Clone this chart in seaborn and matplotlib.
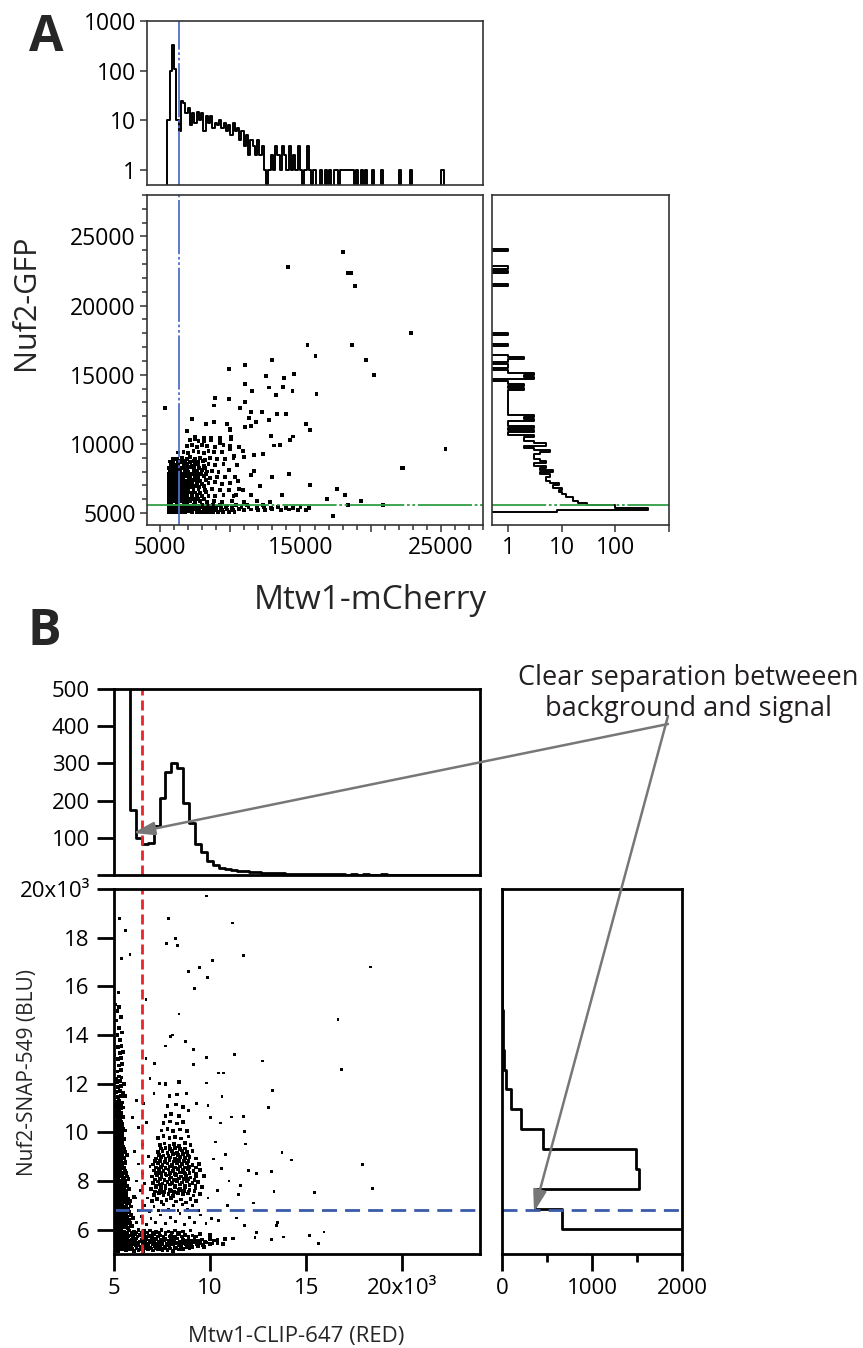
import numpy as np
import matplotlib
matplotlib.use('Agg')
import matplotlib.pyplot as plt
import matplotlib.ticker as mticker
from matplotlib.patches import FancyArrowPatch
import seaborn as sns

sns.set_style('ticks')
plt.rcParams['font.family'] = ['Open Sans', 'DejaVu Sans']

# ---------------- DATA : panel A ----------------
a_top_start = 5360
a_top_width = 160
a_top_counts = [0, 10, 100, 330, 110, 10, 6, 24, 22, 14, 18, 8, 14, 9, 15, 10, 14, 6, 12, 9, 12,
                7, 9, 8, 10, 7, 9, 6, 8, 5, 9, 6, 7, 4, 6, 3, 5, 2, 4, 3, 2,
                4, 2, 3, 1, 0, 1, 2, 1, 3, 2, 1, 3, 2, 1, 3, 1, 2, 1, 3, 1,
                0, 1, 3, 1, 0, 1, 0, 0, 1, 0, 1, 0, 1, 0, 1, 1, 0, 1, 1, 1,
                1, 1, 1, 0, 1, 0, 1, 0, 1, 0, 0, 1, 0, 0, 0, 1, 0, 0, 0, 0,
                0, 0, 0, 1, 0, 0, 0, 0, 1, 0, 0, 0, 0, 0, 0, 0, 0, 0, 0, 0,
                0, 0, 1, 0, 0]

a_right_start = 4920
a_right_width = 160
a_right_counts = [0, 8, 400, 100, 30, 20, 16, 16, 12, 10, 9, 10, 7, 9, 6, 5, 5, 6, 4, 7, 4,
                  5, 3, 5, 4, 3, 3, 4, 6, 3, 2, 5, 3, 2, 2, 3, 1, 3, 1, 3, 1,
                  1, 3, 2, 3, 1, 1, 1, 1, 1, 1, 1, 1, 1, 1, 1, 2, 1, 2, 1, 0,
                  3, 2, 3, 1, 0, 1, 1, 0, 1, 2, 1, 0, 0, 0, 0, 1, 0, 0, 0, 0,
                  1, 0, 0, 0, 0, 0, 0, 0, 0, 0, 0, 0, 0, 0, 0, 0, 0, 0, 0, 0,
                  0, 0, 1, 0, 0, 0, 0, 0, 1, 0, 1, 0, 0, 0, 0, 0, 0, 0, 1, 0]

a_sparse = [(18000, 23900), (14100, 22800), (18400, 22350), (18600, 22350), (18900, 21420),
            (22900, 18000), (18670, 17130), (15500, 17130), (16070, 16360), (19690, 16090),
            (20240, 15000), (25330, 9660), (22210, 8290), (22330, 8290), (16140, 13620),
            (15670, 7030), (17570, 6720), (18140, 6280), (16900, 6040), (19330, 5890),
            (17330, 4810), (20900, 5560), (18380, 5600), (5360, 12600),
            (11050, 15730), (9880, 15440), (13000, 16040), (12550, 14880), (13810, 14740),
            (14570, 15030), (13760, 14150), (14430, 13800), (13290, 13530), (12790, 14080),
            (11050, 14310), (11550, 13860), (9880, 13240), (8910, 13310), (8810, 12780),
            (11050, 13030), (10710, 12570), (11480, 12280), (12260, 12330), (11310, 11900),
            (13330, 12190), (13950, 12160), (12740, 11700), (11860, 11580), (11070, 11200),
            (11480, 11270), (15380, 11460), (15670, 11020), (12900, 10590), (14500, 10540),
            (14240, 10300), (13140, 9890), (13570, 9940), (12950, 7640), (14190, 7860),
            (11670, 8040), (11500, 7750), (12140, 6980), (10550, 7340), (10880, 6670),
            (10380, 6300), (11480, 6280), (13690, 6280), (12330, 9250), (11670, 9200),
            (10980, 9080), (10880, 9520), (10290, 9140), (9950, 9640), (10600, 9780),
            (7290, 11790), (6950, 10920), (8290, 11420), (8830, 11570), (9790, 11420),
            (9950, 11110), (7500, 10530), (8120, 10240), (8640, 10410), (9290, 10410),
            (10070, 10530), (9240, 10050), (10000, 10990)]

a_core = [(7150, 10280), (7500, 10350), (7740, 10220), (8120, 10400), (8640, 10300), (9290, 10180), (10070, 10330),
          (6900, 9820), (7260, 9900), (7620, 9780), (8000, 9950), (8330, 9840), (8930, 9760), (9520, 9900), (9950, 9830),
          (6300, 9380), (6670, 9450), (7020, 9330), (7380, 9480), (7740, 9400), (8100, 9350), (8450, 9470), (8810, 9390), (9400, 9430),
          (5950, 8950), (6200, 8880), (6550, 9000), (6900, 8920), (7140, 9030), (7500, 8900), (7860, 8980), (8210, 8870),
          (8570, 9010), (9050, 8940), (9640, 8890), (10230, 8970),
          (5800, 8520), (6050, 8450), (6300, 8560), (6670, 8480), (6900, 8530), (7260, 8440), (7500, 8570), (7740, 8490),
          (8100, 8420), (8450, 8550), (8930, 8470), (9520, 8530), (10480, 8460),
          (5700, 8060), (5950, 8000), (6200, 8100), (6450, 8030), (6790, 8080), (7020, 7990), (7380, 8120), (7620, 8040),
          (7980, 8090), (8330, 8010), (8690, 8070), (9160, 8000), (9880, 8110),
          (5650, 7580), (5900, 7640), (6150, 7560), (6400, 7620), (6670, 7590), (6900, 7670), (7140, 7550), (7500, 7630),
          (7740, 7580), (8100, 7650), (8570, 7560), (9050, 7620), (9640, 7590), (10350, 7640),
          (5650, 7130), (5850, 7200), (6100, 7110), (6300, 7180), (6550, 7140), (6790, 7210), (7020, 7120), (7260, 7170),
          (7620, 7200), (7980, 7110), (8450, 7160), (8930, 7220), (9400, 7130), (10000, 7180),
          (5600, 6720), (5850, 6650), (6050, 6740), (6300, 6680), (6550, 6710), (6790, 6660), (7020, 6750), (7380, 6690),
          (7740, 6720), (8210, 6650), (8690, 6740), (9290, 6700), (9880, 6660), (10600, 6720),
          (5600, 6230), (5800, 6290), (6000, 6210), (6200, 6270), (6450, 6240), (6670, 6300), (6900, 6220), (7260, 6260),
          (7620, 6290), (8000, 6210), (8450, 6270), (8930, 6240), (9520, 6300), (10230, 6220),
          (5600, 5860), (5800, 5800), (6000, 5880), (6200, 5830), (6450, 5870), (6670, 5810), (6900, 5890), (7140, 5840),
          (7500, 5800), (7860, 5870), (8330, 5820), (8810, 5880), (9400, 5830), (10100, 5860), (10950, 5810),
          (11900, 5850), (12800, 5820),
          (5750, 8300), (5900, 7850), (6100, 7350), (5750, 6950), (5950, 6450), (6150, 6000), (5950, 8850)]

a_core_fill = [(5700, 8730), (5950, 8700), (6250, 8760), (6500, 8710), (6800, 8750), (7100, 8720), (7400, 8740),
               (7700, 8700), (8050, 8760),
               (5650, 8280), (5900, 8250), (6150, 8300), (6400, 8260), (6700, 8290), (6950, 8250), (7200, 8310),
               (7450, 8270), (7800, 8290), (8200, 8250),
               (5600, 7830), (5850, 7800), (6100, 7850), (6350, 7810), (6600, 7840), (6850, 7800), (7100, 7860),
               (7350, 7820), (7600, 7840), (7900, 7800), (8250, 7850),
               (5600, 7380), (5850, 7350), (6050, 7400), (6300, 7360), (6550, 7390), (6800, 7350), (7050, 7410),
               (7300, 7370), (7550, 7390), (7850, 7350), (8300, 7400),
               (5600, 6930), (5800, 6900), (6050, 6950), (6250, 6910), (6500, 6940), (6750, 6900), (7000, 6960),
               (7250, 6920), (7500, 6940), (7800, 6900), (8100, 6950),
               (5600, 6480), (5800, 6450), (6000, 6500), (6250, 6460), (6500, 6490), (6750, 6450), (7000, 6510),
               (7250, 6470), (7500, 6490), (7850, 6450), (8250, 6500),
               (5600, 6030), (5800, 6000), (6000, 6050), (6200, 6010), (6400, 6040), (6650, 6000), (6900, 6060),
               (7150, 6020), (7400, 6040), (7700, 6000), (8100, 6050)]

a_band = [(5600, 5080), (5800, 5060), (6000, 5100), (6200, 5070), (6400, 5110), (6600, 5060), (6800, 5090), (7000, 5120),
          (7300, 5070), (7600, 5100), (7900, 5060), (8200, 5110), (8500, 5080), (8800, 5100), (9100, 5060), (9500, 5110),
          (9900, 5080), (10300, 5100),
          (5700, 5240), (5900, 5270), (6100, 5220), (6300, 5260), (6500, 5230), (6750, 5280), (7000, 5250), (7250, 5220),
          (7500, 5270), (7800, 5240), (8100, 5260), (8400, 5220), (8700, 5270), (9000, 5250), (9400, 5230), (9800, 5260),
          (10200, 5240), (10600, 5270), (11000, 5230), (11500, 5260), (12000, 5250), (12500, 5220), (13000, 5270),
          (13600, 5240), (14200, 5260), (14800, 5230), (15400, 5250),
          (5650, 5400), (5850, 5430), (6050, 5380), (6250, 5420), (6500, 5390), (6700, 5440), (6950, 5400), (7200, 5370),
          (7450, 5420), (7700, 5390), (8000, 5430), (8300, 5380), (8650, 5410), (9000, 5440), (9350, 5390), (9700, 5420),
          (10100, 5380), (10800, 5410), (11300, 5440), (11900, 5390), (12400, 5420), (12900, 5380), (13400, 5430),
          (14000, 5400), (14500, 5380), (15000, 5420), (15600, 5400),
          (5600, 5560), (5800, 5590), (6000, 5540), (6200, 5580), (6450, 5550), (6700, 5600), (6900, 5560), (7150, 5530),
          (7400, 5580), (7700, 5550), (8000, 5590), (8400, 5540), (8800, 5570), (9300, 5600), (9800, 5550), (10400, 5580),
          (11200, 5560), (12300, 5600)]

a_vline = 6360
a_hline = 5580

# ---------------- DATA : panel B (values in thousands) ----------------
b_top_start = 4.90
b_top_width = 0.311
b_top_counts = [900, 1500, 800, 174, 100, 82, 85, 133, 208, 277, 300, 288, 194, 139, 84, 62, 37, 26,
                18, 15, 13, 11, 10, 8, 7, 6, 6, 5, 5, 4, 4, 3, 3, 3, 2, 3, 2, 2, 2, 1, 2, 1, 2, 1,
                1, 2, 1, 1, 1, 1, 0, 1, 1, 0, 1, 1, 0, 1, 0, 1, 0, 0]

b_right_start = 4.40
b_right_width = 0.818
b_right_counts = [3000, 2600, 664, 362, 1520, 1494, 450, 214, 103, 48, 18, 11, 6, 4, 3, 2, 2, 1, 1]

b_sparse = [(9.83, 19.71), (5.31, 18.8), (7.87, 18.78), (5.61, 18.31), (11.18, 18.6), (7.77, 17.77), (8.2, 17.98),
            (8.34, 17.67), (5.86, 17.3), (5.42, 17.13), (11.76, 17.26), (10.15, 17.06), (18.33, 16.79), (8.91, 16.62),
            (9.46, 16.76), (9.89, 16.35), (9.22, 15.9), (5.26, 15.76), (6.69, 15.46), (8.4, 14.86), (16.66, 14.64),
            (8.05, 14.0), (7.95, 13.93), (7.69, 13.55), (8.74, 13.73), (9.16, 13.39), (6.69, 13.05), (9.83, 13.09),
            (11.29, 13.19), (12.74, 12.93), (16.83, 12.57), (7.14, 12.84), (9.16, 12.78), (10.46, 12.44), (10.72, 12.44),
            (9.83, 12.03), (13.27, 11.71), (10.63, 11.46), (13.06, 11.03), (11.13, 10.63), (11.74, 10.66), (10.02, 10.62),
            (10.54, 10.38), (11.8, 10.03), (11.84, 9.52), (13.75, 9.17), (14.25, 8.86), (17.93, 8.69), (11.99, 8.42),
            (12.41, 8.31), (13.21, 8.39), (15.44, 7.54), (18.45, 7.7), (13.33, 7.58), (11.59, 7.81), (11.47, 7.46),
            (12.27, 7.1), (13.52, 6.31), (13.47, 6.18), (12.41, 5.88), (15.93, 5.9), (15.19, 5.76), (15.63, 5.43),
            (13.84, 5.7), (13.22, 5.61), (12.34, 5.67), (11.81, 6.18), (11.38, 6.48), (10.44, 6.39), (10.93, 6.99),
            (10.3, 9.6), (10.8, 9.1), (9.9, 11.1), (10.2, 8.9), (10.6, 8.5), (11.0, 8.0), (10.4, 7.6), (9.9, 7.3),
            (7.1, 11.6), (6.9, 12.2), (7.4, 12.0), (8.8, 11.6), (9.3, 11.2), (8.9, 10.9)]

b_column = [(5.05, 6.05), (5.22, 6.1), (5.4, 6.02), (5.58, 6.12), (5.75, 6.07), (5.95, 6.15),
            (5.12, 6.25), (5.3, 6.3), (5.48, 6.22), (5.66, 6.33), (5.85, 6.27),
            (5.03, 6.45), (5.2, 6.4), (5.38, 6.5), (5.55, 6.43), (5.72, 6.52), (6.0, 6.48),
            (5.1, 6.65), (5.28, 6.6), (5.45, 6.7), (5.62, 6.63), (5.8, 6.72),
            (5.04, 6.85), (5.2, 6.9), (5.36, 6.82), (5.52, 6.93), (5.7, 6.87), (5.9, 6.95),
            (5.12, 7.05), (5.3, 7.1), (5.47, 7.02), (5.64, 7.13), (5.82, 7.08),
            (5.05, 7.25), (5.22, 7.3), (5.4, 7.22), (5.57, 7.33), (5.75, 7.27), (6.05, 7.35),
            (5.14, 7.45), (5.31, 7.5), (5.5, 7.42), (5.68, 7.53),
            (5.04, 7.65), (5.21, 7.7), (5.38, 7.62), (5.56, 7.73), (5.8, 7.67),
            (5.12, 7.85), (5.3, 7.9), (5.46, 7.82), (5.63, 7.93),
            (5.05, 8.05), (5.22, 8.1), (5.39, 8.02), (5.56, 8.13), (5.78, 8.08),
            (5.13, 8.25), (5.3, 8.3), (5.47, 8.22), (5.65, 8.33),
            (5.04, 8.45), (5.2, 8.5), (5.37, 8.42), (5.54, 8.53),
            (5.12, 8.65), (5.28, 8.7), (5.45, 8.62), (5.62, 8.73),
            (5.05, 8.85), (5.21, 8.9), (5.38, 8.82), (5.55, 8.93),
            (5.13, 9.05), (5.3, 9.1), (5.46, 9.02), (5.7, 9.08),
            (5.06, 9.25), (5.22, 9.3), (5.39, 9.22), (5.56, 9.33),
            (5.14, 9.45), (5.31, 9.5), (5.48, 9.42),
            (5.05, 9.65), (5.22, 9.7), (5.38, 9.62), (5.55, 9.73),
            (5.13, 9.85), (5.3, 9.9), (5.46, 9.82),
            (5.06, 10.05), (5.22, 10.1), (5.38, 10.02), (5.6, 10.08),
            (5.14, 10.25), (5.3, 10.3), (5.45, 10.22),
            (5.07, 10.45), (5.24, 10.5), (5.4, 10.42),
            (5.15, 10.65), (5.32, 10.7), (5.5, 10.62),
            (5.1, 10.85), (5.27, 10.9), (5.42, 10.82),
            (5.18, 11.05), (5.35, 11.1), (5.52, 11.02),
            (5.12, 11.25), (5.3, 11.3), (5.45, 11.22),
            (5.22, 11.45), (5.38, 11.5),
            (5.15, 11.65), (5.32, 11.7), (5.48, 11.62),
            (5.25, 11.85), (5.4, 11.9),
            (5.18, 12.05), (5.35, 12.1), (5.55, 12.0),
            (5.28, 12.3), (5.42, 12.25),
            (5.2, 12.5), (5.38, 12.55),
            (5.3, 12.75), (5.45, 12.8),
            (5.22, 13.0), (5.4, 13.05),
            (5.32, 13.25), (5.5, 13.3),
            (5.25, 13.5), (5.42, 13.55),
            (5.35, 13.8), (5.2, 14.0), (5.45, 14.1), (5.3, 14.3), (5.12, 14.6), (5.38, 14.75),
            (5.2, 15.0), (5.1, 15.25), (5.28, 15.15), (5.05, 13.2), (5.12, 12.2), (5.6, 11.5)]

b_column_fill = [(5.13, 6.17), (5.31, 6.2), (5.49, 6.14), (5.67, 6.22), (5.88, 6.18),
                 (5.08, 6.36), (5.26, 6.35), (5.44, 6.39), (5.62, 6.36), (5.8, 6.4),
                 (5.14, 6.56), (5.32, 6.55), (5.5, 6.58), (5.68, 6.55), (5.9, 6.6),
                 (5.08, 6.76), (5.26, 6.75), (5.43, 6.78), (5.6, 6.76), (5.78, 6.8),
                 (5.15, 6.96), (5.32, 6.98), (5.5, 6.95), (5.68, 6.99),
                 (5.08, 7.16), (5.26, 7.18), (5.43, 7.15), (5.6, 7.19), (5.85, 7.17),
                 (5.15, 7.37), (5.33, 7.38), (5.5, 7.35), (5.67, 7.39),
                 (5.08, 7.56), (5.25, 7.58), (5.43, 7.55), (5.6, 7.6),
                 (5.15, 7.77), (5.33, 7.78), (5.5, 7.75), (5.7, 7.8),
                 (5.08, 7.96), (5.25, 7.98), (5.43, 7.95), (5.6, 7.99),
                 (5.15, 8.17), (5.33, 8.18), (5.5, 8.15), (5.7, 8.19),
                 (5.08, 8.36), (5.25, 8.38), (5.43, 8.35), (5.6, 8.4),
                 (5.15, 8.56), (5.33, 8.58), (5.5, 8.55),
                 (5.08, 8.76), (5.25, 8.78), (5.43, 8.75), (5.62, 8.8),
                 (5.15, 8.96), (5.33, 8.98), (5.5, 8.95),
                 (5.08, 9.16), (5.25, 9.18), (5.43, 9.15), (5.6, 9.2),
                 (5.15, 9.36), (5.33, 9.38), (5.5, 9.35),
                 (5.08, 9.56), (5.25, 9.58), (5.43, 9.55),
                 (5.15, 9.76), (5.33, 9.78), (5.5, 9.75),
                 (5.08, 9.96), (5.25, 9.98), (5.43, 9.95),
                 (5.15, 10.16), (5.33, 10.18), (5.5, 10.15),
                 (5.08, 10.36), (5.25, 10.38), (5.43, 10.35),
                 (5.2, 10.56), (5.36, 10.58),
                 (5.05, 10.76), (5.22, 10.78), (5.38, 10.75),
                 (5.24, 10.96), (5.4, 10.98),
                 (5.08, 11.16), (5.25, 11.18), (5.4, 11.15)]

b_band = [(5.05, 5.16), (5.25, 5.12), (5.45, 5.18), (5.65, 5.14), (5.85, 5.19), (6.05, 5.13), (6.3, 5.17),
          (6.55, 5.12), (6.8, 5.18), (7.05, 5.15), (7.3, 5.2), (7.55, 5.14), (7.8, 5.17), (8.1, 5.13), (8.4, 5.19),
          (5.1, 5.3), (5.3, 5.34), (5.5, 5.27), (5.7, 5.32), (5.9, 5.28), (6.15, 5.35), (6.4, 5.29), (6.65, 5.33),
          (6.9, 5.26), (7.15, 5.31), (7.4, 5.35), (7.65, 5.28), (7.9, 5.32), (8.2, 5.27), (8.5, 5.34), (8.8, 5.3),
          (9.1, 5.28), (9.4, 5.33), (9.7, 5.29),
          (5.02, 5.45), (5.2, 5.48), (5.4, 5.42), (5.6, 5.47), (5.8, 5.43), (6.0, 5.49), (6.25, 5.44), (6.5, 5.46),
          (6.75, 5.41), (7.0, 5.48), (7.25, 5.43), (7.5, 5.47), (7.75, 5.42), (8.0, 5.49), (8.3, 5.44), (8.6, 5.46),
          (8.9, 5.41), (9.2, 5.48), (9.5, 5.44), (9.8, 5.47), (10.1, 5.43), (10.4, 5.46), (10.7, 5.42),
          (5.12, 5.6), (5.32, 5.63), (5.52, 5.57), (5.72, 5.62), (5.95, 5.58), (6.2, 5.64), (6.45, 5.59), (6.7, 5.61),
          (6.95, 5.56), (7.2, 5.63), (7.45, 5.58), (7.7, 5.62), (8.0, 5.57), (8.3, 5.64), (8.6, 5.6), (8.9, 5.58),
          (9.2, 5.63), (9.6, 5.59), (10.0, 5.62), (10.4, 5.57), (10.8, 5.61), (11.2, 5.64),
          (5.05, 5.78), (5.25, 5.81), (5.45, 5.75), (5.65, 5.8), (5.85, 5.76), (6.1, 5.82), (6.35, 5.77), (6.6, 5.79),
          (6.85, 5.74), (7.1, 5.81), (7.4, 5.76), (7.7, 5.8), (8.0, 5.75), (8.35, 5.82), (8.7, 5.78), (9.1, 5.76),
          (9.5, 5.81), (10.0, 5.77),
          (5.15, 5.95), (5.35, 5.98), (5.55, 5.92), (5.8, 5.97), (6.05, 5.93), (6.3, 5.99), (6.6, 5.94), (6.9, 5.96),
          (7.2, 5.91), (7.5, 5.98), (7.85, 5.93), (8.2, 5.97), (8.6, 5.92), (9.0, 5.96)]

b_band_fill = [(5.15, 5.22), (5.35, 5.24), (5.55, 5.21), (5.75, 5.25), (5.95, 5.22), (6.2, 5.24), (6.45, 5.21),
               (6.7, 5.25), (6.95, 5.22), (7.2, 5.24), (7.45, 5.21), (7.7, 5.25), (7.95, 5.22), (8.25, 5.24),
               (8.6, 5.21), (8.95, 5.24),
               (5.05, 5.38), (5.25, 5.4), (5.45, 5.37), (5.65, 5.4), (5.85, 5.38), (6.05, 5.4), (6.3, 5.37),
               (6.55, 5.4), (6.8, 5.38), (7.05, 5.4), (7.3, 5.37), (7.55, 5.4), (7.8, 5.38), (8.1, 5.4), (8.4, 5.37),
               (8.75, 5.4), (9.05, 5.38), (9.35, 5.4), (9.65, 5.38), (10.0, 5.4),
               (5.1, 5.53), (5.3, 5.55), (5.5, 5.52), (5.7, 5.55), (5.9, 5.53), (6.12, 5.55), (6.37, 5.52),
               (6.62, 5.55), (6.87, 5.53), (7.12, 5.55), (7.37, 5.52), (7.62, 5.55), (7.87, 5.53), (8.15, 5.55),
               (8.45, 5.52), (8.75, 5.55), (9.05, 5.53), (9.4, 5.55), (9.75, 5.52), (10.2, 5.55),
               (5.15, 5.7), (5.35, 5.72), (5.55, 5.69), (5.75, 5.72), (6.0, 5.7), (6.25, 5.72), (6.5, 5.69),
               (6.75, 5.72), (7.0, 5.7), (7.3, 5.72), (7.6, 5.69), (7.9, 5.72), (8.2, 5.7), (8.55, 5.72),
               (8.9, 5.69), (9.3, 5.72),
               (5.1, 5.87), (5.3, 5.89), (5.5, 5.86), (5.72, 5.89), (5.95, 5.87), (6.2, 5.89), (6.45, 5.86),
               (6.75, 5.89), (7.05, 5.87), (7.35, 5.89), (7.7, 5.86), (8.05, 5.89), (8.4, 5.87)]

b_middle = [(6.2, 6.3), (6.45, 6.55), (6.7, 6.2), (6.95, 6.45), (7.2, 6.3), (7.45, 6.6), (7.7, 6.25), (7.95, 6.5),
            (8.2, 6.35), (8.45, 6.65), (8.7, 6.2), (8.95, 6.5), (9.2, 6.3), (9.5, 6.6), (9.8, 6.25), (10.1, 6.45),
            (6.3, 6.8), (6.6, 7.0), (6.85, 6.75), (7.1, 6.95), (7.35, 6.8), (7.6, 7.05), (7.85, 6.85), (8.1, 7.0),
            (8.35, 6.8), (8.6, 7.05), (8.85, 6.85), (9.1, 7.0), (9.4, 6.8),
            (6.15, 7.3), (6.4, 7.6), (6.2, 8.0), (6.5, 8.3), (6.3, 8.7), (6.6, 7.9), (6.75, 7.3), (6.9, 8.6),
            (6.1, 9.2), (6.5, 9.5), (6.8, 9.0), (6.3, 10.2), (6.0, 10.6), (6.7, 10.4), (6.2, 11.3), (6.55, 11.2)]

b_cluster = [(7.0, 7.18), (7.25, 7.26), (7.5, 7.14), (7.75, 7.23), (8.0, 7.29), (8.25, 7.16), (8.5, 7.24), (8.75, 7.12),
             (9.0, 7.27), (9.3, 7.19),
             (7.1, 7.43), (7.35, 7.5), (7.6, 7.4), (7.85, 7.47), (8.1, 7.38), (8.35, 7.52), (8.6, 7.44), (8.85, 7.49),
             (9.15, 7.41), (9.5, 7.46),
             (6.95, 7.68), (7.2, 7.74), (7.45, 7.66), (7.7, 7.72), (7.95, 7.65), (8.2, 7.76), (8.45, 7.69), (8.7, 7.73),
             (8.95, 7.64), (9.25, 7.71), (9.6, 7.75),
             (7.05, 7.93), (7.3, 7.98), (7.55, 7.9), (7.8, 7.97), (8.05, 7.92), (8.3, 8.0), (8.55, 7.94), (8.8, 7.99),
             (9.1, 7.91), (9.4, 7.96),
             (7.0, 8.18), (7.25, 8.24), (7.5, 8.16), (7.75, 8.22), (8.0, 8.15), (8.25, 8.25), (8.5, 8.19), (8.75, 8.23),
             (9.0, 8.14), (9.3, 8.21), (9.7, 8.2),
             (7.1, 8.43), (7.35, 8.49), (7.6, 8.41), (7.85, 8.47), (8.1, 8.4), (8.35, 8.5), (8.6, 8.44), (8.85, 8.48),
             (9.15, 8.42), (9.5, 8.46),
             (7.05, 8.68), (7.3, 8.74), (7.55, 8.66), (7.8, 8.72), (8.05, 8.65), (8.3, 8.75), (8.55, 8.69), (8.8, 8.73),
             (9.1, 8.67), (9.45, 8.71),
             (7.2, 8.93), (7.45, 8.99), (7.7, 8.91), (7.95, 8.97), (8.2, 8.9), (8.45, 9.0), (8.7, 8.94), (8.95, 8.98),
             (9.3, 8.92),
             (7.3, 9.18), (7.55, 9.24), (7.8, 9.16), (8.05, 9.22), (8.3, 9.15), (8.55, 9.25), (8.8, 9.19), (9.1, 9.23),
             (7.4, 9.48), (7.65, 9.54), (7.9, 9.46), (8.15, 9.52), (8.4, 9.45), (8.7, 9.55), (9.0, 9.49),
             (7.3, 9.78), (7.6, 9.84), (7.9, 9.76), (8.2, 9.82), (8.5, 9.75), (8.9, 9.83),
             (7.5, 10.08), (7.8, 10.14), (8.1, 10.06), (8.45, 10.12), (8.8, 10.05),
             (7.6, 10.38), (7.95, 10.44), (8.3, 10.36), (8.6, 10.42),
             (7.7, 10.68), (8.0, 10.74), (8.4, 10.66),
             (7.8, 11.08), (8.25, 11.14), (8.6, 11.05),
             (7.9, 11.48), (8.3, 11.55),
             (7.7, 11.98), (8.4, 12.06),
             (7.4, 7.85), (7.65, 8.05), (7.9, 8.3), (8.15, 8.55), (8.4, 8.8), (8.65, 8.35), (7.45, 8.6), (7.7, 8.85),
             (7.95, 8.6), (8.2, 8.05), (8.45, 7.85), (8.7, 8.1), (7.6, 9.05), (8.1, 9.1), (8.6, 9.1), (7.3, 8.35),
             (8.9, 8.6), (8.0, 7.6), (7.55, 7.55), (8.6, 7.6)]

b_cluster_fill = [(7.15, 7.57), (7.4, 7.6), (7.65, 7.56), (7.9, 7.59), (8.15, 7.55), (8.4, 7.62), (8.65, 7.58),
                  (8.9, 7.55), (9.2, 7.6),
                  (7.2, 7.82), (7.45, 7.84), (7.7, 7.8), (7.95, 7.85), (8.2, 7.81), (8.45, 7.86), (8.7, 7.82),
                  (8.95, 7.84), (9.25, 7.8),
                  (7.15, 8.06), (7.4, 8.08), (7.65, 8.04), (7.9, 8.09), (8.15, 8.05), (8.4, 8.1), (8.65, 8.06),
                  (8.9, 8.08), (9.2, 8.04),
                  (7.2, 8.31), (7.45, 8.33), (7.7, 8.29), (7.95, 8.34), (8.2, 8.3), (8.45, 8.35), (8.7, 8.31),
                  (8.95, 8.33), (9.3, 8.3),
                  (7.2, 8.56), (7.45, 8.58), (7.7, 8.54), (7.95, 8.59), (8.2, 8.55), (8.45, 8.6), (8.7, 8.56),
                  (8.95, 8.58), (9.3, 8.55),
                  (7.15, 8.81), (7.4, 8.83), (7.65, 8.79), (7.9, 8.84), (8.15, 8.8), (8.4, 8.85), (8.65, 8.81),
                  (8.9, 8.83),
                  (7.35, 9.06), (7.85, 9.04), (8.35, 9.07), (8.85, 9.05),
                  (7.45, 9.33), (7.7, 9.35), (7.95, 9.31), (8.2, 9.36), (8.45, 9.32), (8.7, 9.34)]

b_vline = 6.5
b_hline = 6.8

# ---------------- FIGURE ----------------
W, H = 863, 1348
fig = plt.figure(figsize=(W / 100, H / 100), dpi=100)


def rect(l, t, r, b):
    return [l / W, 1 - b / H, (r - l) / W, (b - t) / H]


def edges_of(start, width, counts):
    return (start + width * np.arange(len(counts) + 1)).tolist()


def centers_of(start, width, counts):
    return (start + width * (np.arange(len(counts)) + 0.5)).tolist()


A_XLIM = (4070, 28000)
A_YLIM = (4140, 28000)
A_COL = '#333333'
blue_a = '#4f6fc8'
green_a = '#2f9e44'
A_LS = (0, (30, 1.5, 1.5, 1.5, 1.5, 1.5))

axA_top = fig.add_axes(rect(147, 21, 483, 185))
axA = fig.add_axes(rect(147, 195, 483, 525))
axA_r = fig.add_axes(rect(492, 195, 669, 525))

# top histogram A
sns.histplot(x=centers_of(a_top_start, a_top_width, a_top_counts), weights=a_top_counts,
             bins=edges_of(a_top_start, a_top_width, a_top_counts), element='step',
             fill=False, color='black', linewidth=1.4, ax=axA_top)
axA_top.set_yscale('log')
axA_top.set_xlim(*A_XLIM)
axA_top.set_ylim(0.5, 1000)
axA_top.axvline(a_vline, color=blue_a, lw=1.3, ls=A_LS)
axA_top.yaxis.set_major_locator(mticker.FixedLocator([1, 10, 100, 1000]))
axA_top.yaxis.set_major_formatter(mticker.FixedFormatter(['1', '10', '100', '1000']))
axA_top.yaxis.set_minor_locator(mticker.NullLocator())
axA_top.tick_params(axis='x', which='both', bottom=False, labelbottom=False)

# scatter A
pts = a_sparse + a_core + a_core_fill + a_band
sns.scatterplot(x=[p[0] for p in pts], y=[p[1] for p in pts], ax=axA, marker='s', s=8,
                color='black', linewidth=0, edgecolor='none')
axA.set_xlim(*A_XLIM)
axA.set_ylim(*A_YLIM)
axA.axvline(a_vline, color=blue_a, lw=1.3, ls=A_LS)
axA.axhline(a_hline, color=green_a, lw=1.3, ls=A_LS)
axA.xaxis.set_major_locator(mticker.FixedLocator([5000, 10000, 15000, 20000, 25000]))
axA.xaxis.set_major_formatter(mticker.FixedFormatter(['5000', '', '15000', '', '25000']))
axA.xaxis.set_minor_locator(mticker.MultipleLocator(1000))
axA.yaxis.set_major_locator(mticker.FixedLocator([5000, 10000, 15000, 20000, 25000]))
axA.yaxis.set_major_formatter(mticker.FixedFormatter(['5000', '10000', '15000', '20000', '25000']))
axA.yaxis.set_minor_locator(mticker.MultipleLocator(1000))

# right histogram A
sns.histplot(y=centers_of(a_right_start, a_right_width, a_right_counts), weights=a_right_counts,
             bins=edges_of(a_right_start, a_right_width, a_right_counts), element='step',
             fill=False, color='black', linewidth=1.4, ax=axA_r)
axA_r.set_xscale('log')
axA_r.set_xlim(0.5, 1000)
axA_r.set_ylim(*A_YLIM)
axA_r.axhline(a_hline, color=green_a, lw=1.3, ls=A_LS)
axA_r.xaxis.set_major_locator(mticker.FixedLocator([1, 10, 100, 1000]))
axA_r.xaxis.set_major_formatter(mticker.FixedFormatter(['1', '10', '100', '']))
axA_r.xaxis.set_minor_locator(mticker.NullLocator())
axA_r.tick_params(axis='y', which='both', left=False, labelleft=False)

for ax in (axA_top, axA, axA_r):
    ax.set_xlabel('')
    ax.set_ylabel('')
    for sp in ax.spines.values():
        sp.set_linewidth(1.2)
        sp.set_color(A_COL)
    ax.tick_params(which='both', direction='out', width=1.1, color=A_COL, labelsize=16.5,
                   labelcolor='black', pad=3)
    ax.tick_params(which='major', length=5)
    ax.tick_params(which='minor', length=3.5)

# ---------------- PANEL B ----------------
red_b = '#e8262a'
blue_b = '#3a5ba8'
B_XLIM = (5, 24)
B_YLIM = (5, 20)

axB_top = fig.add_axes(rect(113.5, 689, 479.5, 875))
axB = fig.add_axes(rect(113.5, 889, 479.5, 1254))
axB_r = fig.add_axes(rect(502, 889, 682, 1254))

sns.histplot(x=centers_of(b_top_start, b_top_width, b_top_counts), weights=b_top_counts,
             bins=edges_of(b_top_start, b_top_width, b_top_counts), element='step',
             fill=False, color='black', linewidth=2, ax=axB_top)
axB_top.set_xlim(*B_XLIM)
axB_top.set_ylim(0, 500)
axB_top.axvline(b_vline, color=red_b, lw=2, ls=(0, (3.6, 1.8)))
axB_top.yaxis.set_major_locator(mticker.FixedLocator([0, 100, 200, 300, 400, 500]))
axB_top.yaxis.set_major_formatter(mticker.FixedFormatter(['', '100', '200', '300', '400', '500']))
axB_top.tick_params(axis='x', which='both', bottom=False, labelbottom=False)

ptsb_sparse = b_sparse + b_middle
ptsb_dense = b_column + b_column_fill + b_band + b_band_fill + b_cluster + b_cluster_fill
sns.scatterplot(x=[p[0] for p in ptsb_sparse], y=[p[1] for p in ptsb_sparse], ax=axB, marker='s', s=4.0,
                color='black', linewidth=0, edgecolor='none')
sns.scatterplot(x=[p[0] for p in ptsb_dense], y=[p[1] for p in ptsb_dense], ax=axB, marker='s', s=7.0,
                color='black', linewidth=0, edgecolor='none')
axB.set_xlim(*B_XLIM)
axB.set_ylim(*B_YLIM)
axB.axvline(b_vline, color=red_b, lw=2, ls=(0, (3.6, 1.8)))
axB.axhline(b_hline, color=blue_b, lw=2, ls=(0, (5.4, 2.9)))
axB.xaxis.set_major_locator(mticker.FixedLocator([5, 10, 15, 20]))
axB.xaxis.set_major_formatter(mticker.FixedFormatter(['5', '10', '15', '20x10\u00b3']))
axB.yaxis.set_major_locator(mticker.FixedLocator([6, 8, 10, 12, 14, 16, 18, 20]))
axB.yaxis.set_major_formatter(mticker.FixedFormatter(['6', '8', '10', '12', '14', '16', '18', '20x10\u00b3']))

sns.histplot(y=centers_of(b_right_start, b_right_width, b_right_counts), weights=b_right_counts,
             bins=edges_of(b_right_start, b_right_width, b_right_counts), element='step',
             fill=False, color='black', linewidth=2, ax=axB_r)
axB_r.set_xlim(0, 2000)
axB_r.set_ylim(*B_YLIM)
axB_r.axhline(b_hline, color=blue_b, lw=2, ls=(0, (5.4, 2.9)))
axB_r.xaxis.set_major_locator(mticker.FixedLocator([0, 1000, 2000]))
axB_r.xaxis.set_minor_locator(mticker.FixedLocator([500, 1500]))
axB_r.tick_params(axis='y', which='both', left=False, labelleft=False)

for ax in (axB_top, axB, axB_r):
    ax.set_xlabel('')
    ax.set_ylabel('')
    for sp in ax.spines.values():
        sp.set_linewidth(2)
        sp.set_color('black')
    ax.tick_params(which='both', direction='out', width=2, color='black', labelsize=16,
                   labelcolor='black', pad=5)
    ax.tick_params(which='major', length=12)
    ax.tick_params(which='minor', length=6)


# ---------------- TEXT ----------------
def px(x, y):
    return x / W, 1 - y / H


fig.text(*px(46, 38), 'A', fontsize=36, fontweight='bold', ha='center', va='center')
fig.text(*px(44.5, 632), 'B', fontsize=36, fontweight='bold', ha='center', va='center')
fig.text(*px(26, 302), 'Nuf2-GFP', fontsize=22, rotation=90, ha='center', va='center')
fig.text(*px(370, 609), 'Mtw1-mCherry', fontsize=24, ha='center', va='baseline')
fig.text(*px(27, 1073), 'Nuf2-SNAP-549 (BLU)', fontsize=15, rotation=90, ha='center', va='center')
fig.text(*px(296, 1342), 'Mtw1-CLIP-647 (RED)', fontsize=16, ha='center', va='baseline')
fig.text(*px(688, 685), 'Clear separation betweeen', fontsize=19.5, ha='center', va='baseline',
         color='#231f20')
fig.text(*px(688, 716), 'background and signal', fontsize=19.5, ha='center', va='baseline',
         color='#231f20')

for start, end in (((668, 724), (133, 833)), ((668, 716), (534, 1212))):
    arr = FancyArrowPatch(px(*start), px(*end), transform=fig.transFigure,
                          arrowstyle='-|>,head_length=0.65,head_width=0.2', mutation_scale=20,
                          color='#777777', lw=1.8, shrinkA=0, shrinkB=0)
    fig.add_artist(arr)

fig.savefig('out.png', dpi=100)
